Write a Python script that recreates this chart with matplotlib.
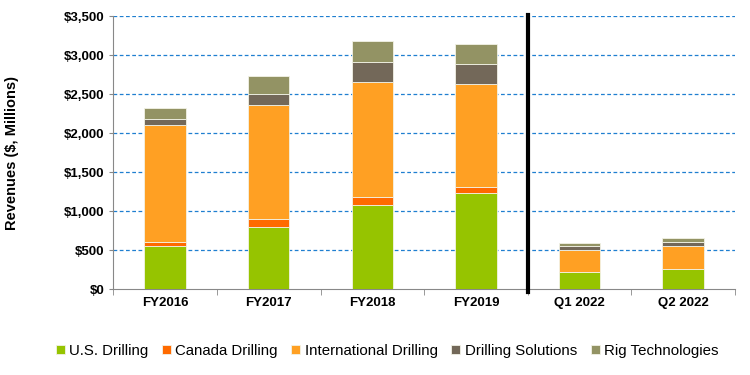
import matplotlib
matplotlib.use("Agg")
import matplotlib.pyplot as plt
import numpy as np
from matplotlib.ticker import FuncFormatter, FixedLocator

categories = ["FY2016", "FY2017", "FY2018", "FY2019", "Q1 2022", "Q2 2022"]
us_drilling = [555, 802, 1084, 1238, 222, 252]
canada_drilling = [51, 94, 103, 72, 0, 0]
intl_drilling = [1502, 1468, 1468, 1319, 282, 299]
drilling_solutions = [69, 137, 256, 256, 51, 51]
rig_technologies = [149, 230, 264, 256, 34, 51]

series = [
    ("U.S. Drilling", us_drilling, "#96C400"),
    ("Canada Drilling", canada_drilling, "#FF6A00"),
    ("International Drilling", intl_drilling, "#FFA023"),
    ("Drilling Solutions", drilling_solutions, "#736859"),
    ("Rig Technologies", rig_technologies, "#939364"),
]

plt.rcParams['font.family'] = ['Liberation Sans', 'DejaVu Sans']
fig = plt.figure(figsize=(7.5, 3.75), dpi=100)
ax = fig.add_axes([0.151, 0.229, 0.829, 0.728])

x = np.arange(len(categories))
bottom = np.zeros(len(categories))
handles = []
for name, vals, col in series:
    vals = np.array(vals, dtype=float)
    b = ax.bar(x, vals, 0.4, bottom=bottom, color=col, edgecolor="#F2F2E6", linewidth=0.6, label=name, zorder=3)
    handles.append(b)
    bottom += vals

ax.set_xlim(-0.5, len(categories) - 0.5)
ax.set_ylim(0, 3500)
ax.set_yticks(np.arange(0, 3501, 500))
ax.yaxis.set_major_formatter(FuncFormatter(lambda v, p: "${:,.0f}".format(v)))
ax.set_xticks(x)
ax.set_xticklabels(categories, fontweight="bold", fontsize=9.5)
ax.xaxis.set_minor_locator(FixedLocator(np.arange(-0.5, len(categories), 1.0)))
ax.tick_params(axis="x", which="major", length=0, pad=6)
ax.tick_params(axis="x", which="minor", length=4, color="#888888", direction="out")
ax.tick_params(axis="y", length=3, color="#888888", labelsize=9.5)
for lab in ax.get_yticklabels():
    lab.set_fontweight("bold")

for y in np.arange(500, 3501, 500):
    ax.axhline(y, color="#1F7FD0", linestyle=(0, (3, 2)), linewidth=0.9, zorder=1)

for s in ["top", "right"]:
    ax.spines[s].set_visible(False)
ax.spines["left"].set_color("#888888")
ax.spines["bottom"].set_color("#888888")

ax.axvline(3.5, ymin=-0.01, ymax=1.005, color="black", linewidth=3, zorder=5, clip_on=False)

ax.set_ylabel("Revenues ($, Millions)", fontweight="bold", fontsize=10.5, labelpad=32)

fig.legend(handles=handles, labels=[s[0] for s in series], loc="lower center",
           bbox_to_anchor=(0.516, 0.01), ncol=5, frameon=False, fontsize=10.8,
           handlelength=0.6, handleheight=0.6, handletextpad=0.3, columnspacing=0.9)

fig.savefig("out.png", dpi=100)
